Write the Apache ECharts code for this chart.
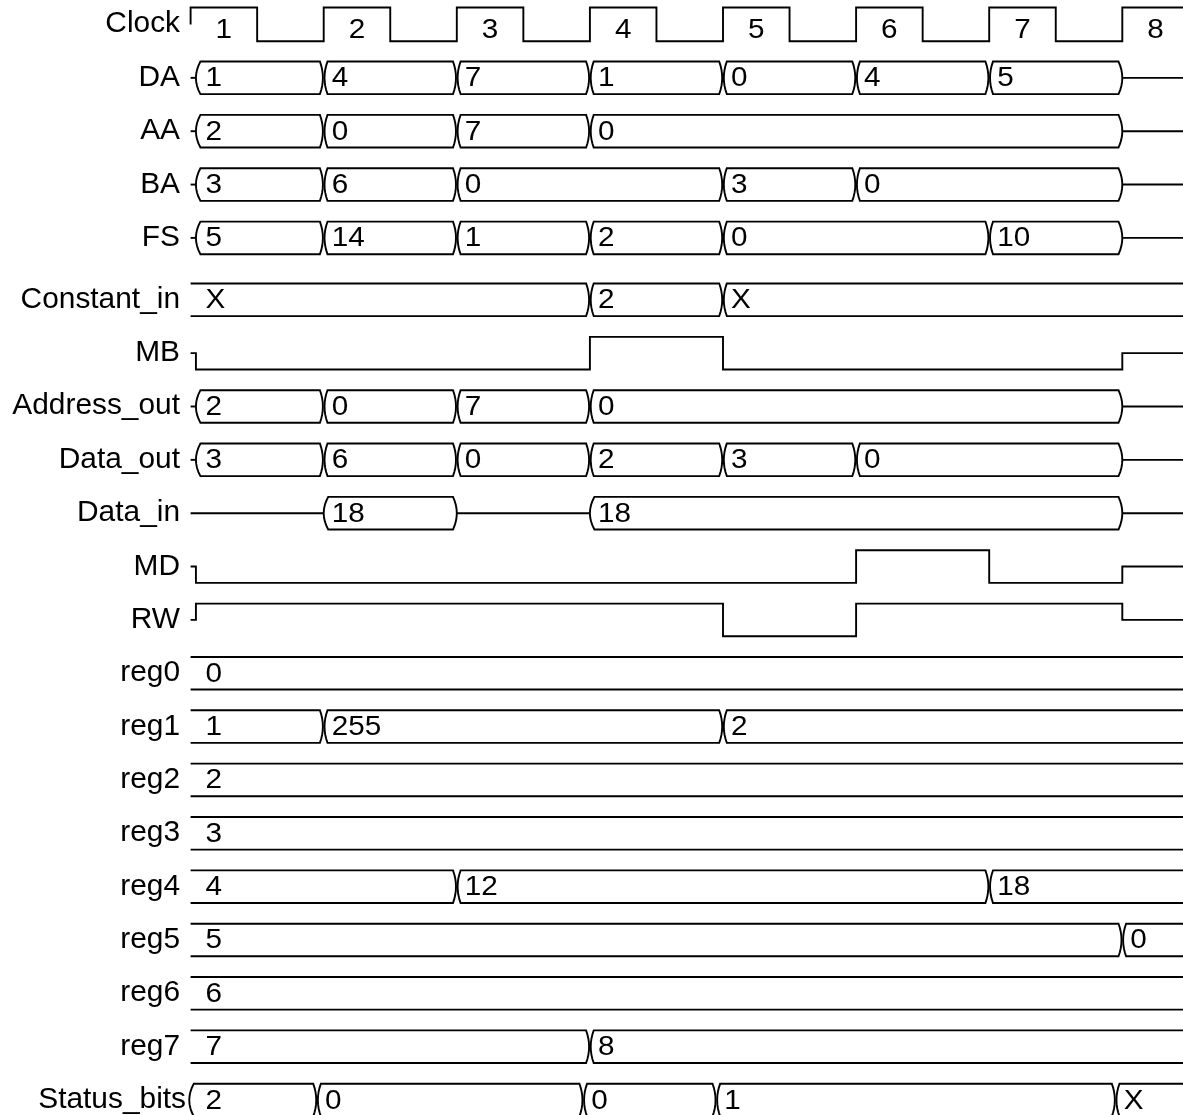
<!DOCTYPE html>
<html>
<head>
<meta charset="utf-8">
<script src="https://cdn.jsdelivr.net/npm/echarts@6/dist/echarts.min.js"></script>
<style>
  html, body { margin: 0; padding: 0; background: #fff; }
  #chart { width: 1183px; height: 1115px; }
</style>
</head>
<body>
<div id="chart"></div>
<script>
// ---------------- data ----------------
const SIGNAL_NAMES = ['Clock', 'DA', 'AA', 'BA', 'FS', 'Constant_in', 'MB', 'Address_out', 'Data_out', 'Data_in',
  'MD', 'RW', 'reg0', 'reg1', 'reg2', 'reg3', 'reg4', 'reg5', 'reg6', 'reg7', 'Status_bits'];
const SIGNAL_KINDS = ['clock', 'bus', 'bus', 'bus', 'bus', 'reg', 'bit', 'bus', 'bus', 'bus',
  'bit', 'bit', 'reg', 'reg', 'reg', 'reg', 'reg', 'reg', 'reg', 'reg', 'bus'];

const CLOCK_CYCLES = ['1', '2', '3', '4', '5', '6', '7', '8'];

const DA_TIMES = [0, 0.04, 1, 2, 3, 4, 5, 6, 7];
const DA_VALUES = ['Z', '1', '4', '7', '1', '0', '4', '5', 'Z'];
const AA_TIMES = [0, 0.04, 1, 2, 3, 7];
const AA_VALUES = ['Z', '2', '0', '7', '0', 'Z'];
const BA_TIMES = [0, 0.04, 1, 2, 4, 5, 7];
const BA_VALUES = ['Z', '3', '6', '0', '3', '0', 'Z'];
const FS_TIMES = [0, 0.04, 1, 2, 3, 4, 6, 7];
const FS_VALUES = ['Z', '5', '14', '1', '2', '0', '10', 'Z'];
const CONSTANT_IN_TIMES = [0, 3, 4];
const CONSTANT_IN_VALUES = ['X', '2', 'X'];
const MB_TIMES = [0, 0.04, 3, 4, 7];
const MB_VALUES = ['Z', 0, 1, 0, 'Z'];
const ADDRESS_OUT_TIMES = [0, 0.04, 1, 2, 3, 7];
const ADDRESS_OUT_VALUES = ['Z', '2', '0', '7', '0', 'Z'];
const DATA_OUT_TIMES = [0, 0.04, 1, 2, 3, 4, 5, 7];
const DATA_OUT_VALUES = ['Z', '3', '6', '0', '2', '3', '0', 'Z'];
const DATA_IN_TIMES = [0, 1, 2, 3, 7];
const DATA_IN_VALUES = ['Z', '18', 'Z', '18', 'Z'];
const MD_TIMES = [0, 0.04, 5, 6, 7];
const MD_VALUES = ['Z', 0, 1, 0, 'Z'];
const RW_TIMES = [0, 0.04, 4, 5, 7];
const RW_VALUES = ['Z', 1, 0, 1, 'Z'];
const REG0_TIMES = [0];       const REG0_VALUES = ['0'];
const REG1_TIMES = [0, 1, 4]; const REG1_VALUES = ['1', '255', '2'];
const REG2_TIMES = [0];       const REG2_VALUES = ['2'];
const REG3_TIMES = [0];       const REG3_VALUES = ['3'];
const REG4_TIMES = [0, 2, 6]; const REG4_VALUES = ['4', '12', '18'];
const REG5_TIMES = [0, 7];    const REG5_VALUES = ['5', '0'];
const REG6_TIMES = [0];       const REG6_VALUES = ['6'];
const REG7_TIMES = [0, 3];    const REG7_VALUES = ['7', '8'];
const STATUS_BITS_TIMES = [-0.01, 0.95, 2.95, 3.95, 6.95];
const STATUS_BITS_VALUES = ['2', '0', '0', '1', 'X'];

const SIGNAL_TIMES = [null, DA_TIMES, AA_TIMES, BA_TIMES, FS_TIMES, CONSTANT_IN_TIMES, MB_TIMES,
  ADDRESS_OUT_TIMES, DATA_OUT_TIMES, DATA_IN_TIMES, MD_TIMES, RW_TIMES,
  REG0_TIMES, REG1_TIMES, REG2_TIMES, REG3_TIMES, REG4_TIMES, REG5_TIMES, REG6_TIMES, REG7_TIMES,
  STATUS_BITS_TIMES];
const SIGNAL_VALUES = [null, DA_VALUES, AA_VALUES, BA_VALUES, FS_VALUES, CONSTANT_IN_VALUES, MB_VALUES,
  ADDRESS_OUT_VALUES, DATA_OUT_VALUES, DATA_IN_VALUES, MD_VALUES, RW_VALUES,
  REG0_VALUES, REG1_VALUES, REG2_VALUES, REG3_VALUES, REG4_VALUES, REG5_VALUES, REG6_VALUES, REG7_VALUES,
  STATUS_BITS_VALUES];

// ---------------- layout ----------------
const X_MAX = 7.456;           // visible time span (clock periods)
const Y_MIN = -0.4592, Y_MAX = 20.44;
const HALF = 16.3;             // half height of a trace (px)
const STROKE = '#000';
const LW = 1.9;
const FONT = '"Liberation Sans", Arial, sans-serif';

function rowPos(i) { return i + (i >= 5 ? 0.16 : 0); }

const chart = echarts.init(document.getElementById('chart'), null, { renderer: 'canvas' });

function txt(text, x, y, size, align, sx) {
  return {
    type: 'text', x: x, y: y, scaleX: sx, scaleY: 1,
    style: { text: text, x: 0, y: 0, align: align, verticalAlign: 'middle', fontSize: size, fontFamily: FONT, fill: '#000' }
  };
}

function renderItem(params, api) {
  const i = api.value(0);
  const pos = rowPos(i);
  const kind = SIGNAL_KINDS[i];
  const xAt = (t) => api.coord([t, pos])[0];
  const yc = api.coord([0, pos])[1];
  const top = yc - HALF, bot = yc + HALF;
  const xEnd = xAt(X_MAX);
  const x0 = xAt(0);
  const children = [];
  const lineStyle = { fill: null, stroke: STROKE, lineWidth: LW };

  // signal name
  children.push(txt(SIGNAL_NAMES[i], i === 20 ? 186 : 180, yc, 29, 'right', 1.03));

  if (kind === 'clock') {
    const clkTop = yc - 17, clkBot = yc + 16.7;
    const pts = [[x0, yc], [x0, clkTop]];
    for (let c = 0; c < CLOCK_CYCLES.length; c++) {
      const tr = c, tf = c + 0.5, tn = c + 1;
      if (c > 0) { pts.push([xAt(tr), clkBot]); pts.push([xAt(tr), clkTop]); }
      children.push(txt(CLOCK_CYCLES[c], xAt(c + 0.25), yc + 6, 27, 'center', 1.1));
      if (tf >= X_MAX) { pts.push([xEnd, clkTop]); break; }
      pts.push([xAt(tf), clkTop]); pts.push([xAt(tf), clkBot]);
      if (tn >= X_MAX) { pts.push([xEnd, clkBot]); break; }
    }
    children.push({ type: 'polyline', shape: { points: pts }, style: lineStyle });
    return { type: 'group', children };
  }

  const T = SIGNAL_TIMES[i], V = SIGNAL_VALUES[i];
  const n = T.length;

  if (kind === 'bit') {
    const lvl = (v) => v === 'Z' ? yc : (v === 1 ? top : bot);
    const pts = [];
    for (let k = 0; k < n; k++) {
      const xa = xAt(T[k]);
      if (k === 0) pts.push([xa, lvl(V[k])]);
      else { pts.push([xa, lvl(V[k - 1])]); pts.push([xa, lvl(V[k])]); }
    }
    pts.push([xEnd, lvl(V[n - 1])]);
    children.push({ type: 'polyline', shape: { points: pts }, style: lineStyle });
    return { type: 'group', children };
  }

  // bus / reg
  function edgePts(xp, depth, dir) {
    const out = [];
    const steps = [-1, -0.75, -0.5, -0.25, 0, 0.25, 0.5, 0.75, 1];
    for (const s of steps) out.push([xp + dir * depth * s * s, yc + s * HALF]);
    return out; // top -> bottom
  }

  for (let k = 0; k < n; k++) {
    const a = T[k];
    const b = k + 1 < n ? T[k + 1] : X_MAX;
    const v = V[k];
    const xa = xAt(a), xb = xAt(b);
    if (v === 'Z') {
      children.push({ type: 'polyline', shape: { points: [[xa, yc], [xb, yc]] }, style: lineStyle });
      continue;
    }
    let left = null, right = null;
    if (k === 0) left = kind === 'reg' ? null : edgePts(xa, 4.5, 1);
    else if (V[k - 1] === 'Z') left = edgePts(xa, 4.5, 1);
    else left = edgePts(xa + 0.8, 3, 1);

    if (k === n - 1) right = null;
    else if (V[k + 1] === 'Z') right = edgePts(xb, 3.8, -1);
    else right = edgePts(xb - 0.8, 3, -1);

    if (left && right) {
      const pts = right.concat(left.slice().reverse());
      children.push({ type: 'polygon', shape: { points: pts }, style: { fill: null, stroke: STROKE, lineWidth: LW } });
    } else if (!left && right) {
      const pts = [[xa, top]].concat(right, [[xa, bot]]);
      children.push({ type: 'polyline', shape: { points: pts }, style: lineStyle });
    } else if (left && !right) {
      const pts = [[xEnd, top]].concat(left, [[xEnd, bot]]);
      children.push({ type: 'polyline', shape: { points: pts }, style: lineStyle });
    } else {
      children.push({ type: 'polyline', shape: { points: [[xa, top], [xEnd, top]] }, style: lineStyle });
      children.push({ type: 'polyline', shape: { points: [[xa, bot], [xEnd, bot]] }, style: lineStyle });
    }

    const firstVal = (k === 0) || (k === 1 && V[0] === 'Z' && T[1] < 0.1);
    const tx = firstVal ? x0 + 15 : xa + 8;
    children.push(txt(String(v), tx, yc + 1, 27, 'left', 1.1));
  }
  return { type: 'group', children };
}

chart.setOption({
  animation: false,
  backgroundColor: '#fff',
  grid: { left: 190.6, right: 0, top: 0, bottom: 0, containLabel: false },
  xAxis: { type: 'value', min: 0, max: X_MAX, show: false },
  yAxis: { type: 'value', min: Y_MIN, max: Y_MAX, inverse: true, show: false },
  series: [{
    type: 'custom',
    coordinateSystem: 'cartesian2d',
    clip: false,
    renderItem: renderItem,
    data: SIGNAL_NAMES.map((name, idx) => [idx])
  }]
});
</script>
</body>
</html>
